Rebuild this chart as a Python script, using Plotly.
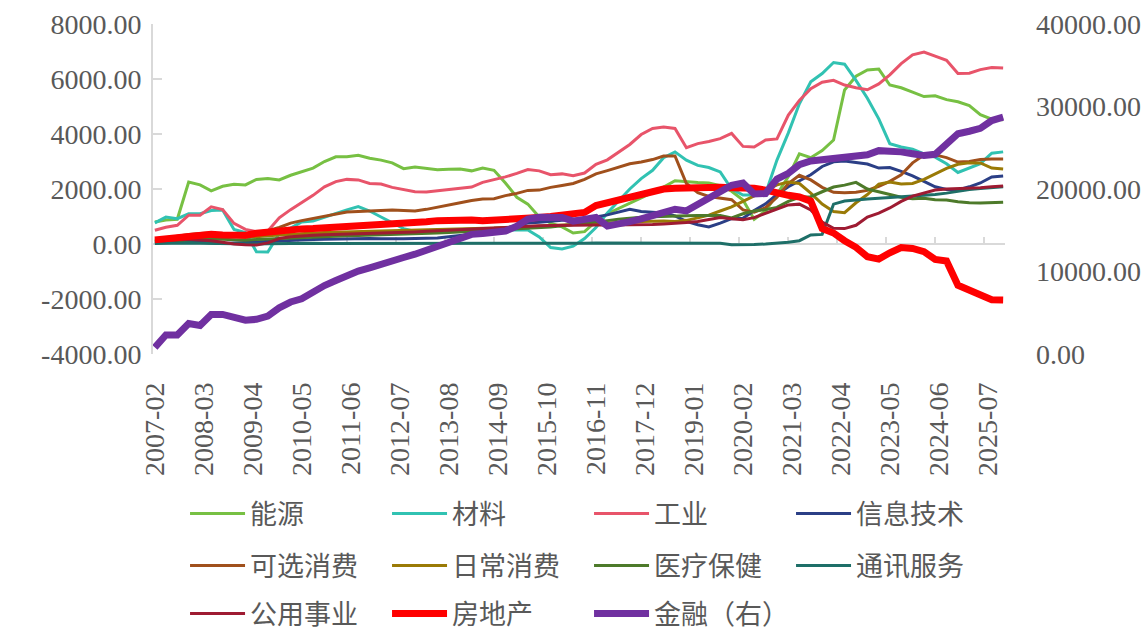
import pandas as pd
import plotly.graph_objects as go

# ---------------- data (quarterly readings, 2007-02 .. 2025-11) ----------------
dates = pd.date_range("2007-02-01", periods=76, freq="3MS").strftime("%Y-%m-%d").tolist()

energy = [800, 870, 900, 2250, 2150, 1930, 2100, 2170, 2150, 2350,
          2380, 2330, 2500, 2620, 2760, 3000, 3170, 3170, 3230, 3120,
          3050, 2950, 2740, 2800, 2760, 2700, 2720, 2730, 2660, 2760,
          2680, 2220, 1700, 1450, 980, 760, 620, 400, 450, 820,
          1100, 1280, 1480, 1680, 1880, 2070, 2300, 2260, 2240, 2220,
          2120, 1920, 1600, 900, 1200, 1800, 2450, 3280, 3140, 3400,
          3780, 5600, 6100, 6330, 6360, 5780, 5680, 5520, 5360, 5390,
          5250, 5170, 5030, 4700, 4540, 4520]
materials = [770, 980, 920, 1100, 1100, 1220, 1240, 530, 420, -280,
             -290, 380, 580, 800, 840, 980, 1110, 1240, 1360, 1200,
             980, 760, 560, 460, 440, 480, 510, 480, 500, 510,
             510, 510, 510, 510, 260, -130, -180, -80, 200, 600,
             1130, 1550, 2000, 2380, 2680, 3140, 3350, 3050, 2860, 2780,
             2620, 2000, 1780, 1780, 1830, 3050, 4040, 5100, 5900, 6200,
             6600, 6540, 5950, 5300, 4550, 3650, 3530, 3450, 3280, 3160,
             2920, 2600, 2750, 2920, 3300, 3350]
industrials = [500, 610, 680, 1050, 1050, 1350, 1250, 750, 530, 450,
               470, 950, 1250, 1500, 1770, 2080, 2270, 2350, 2330, 2200,
               2180, 2060, 1980, 1900, 1890, 1940, 1990, 2030, 2070, 2240,
               2330, 2440, 2570, 2710, 2660, 2520, 2550, 2480, 2580, 2900,
               3060, 3320, 3620, 3980, 4200, 4250, 4200, 3500, 3650, 3730,
               3830, 4020, 3550, 3530, 3780, 3820, 4690, 5220, 5650, 5880,
               5950, 5780, 5680, 5610, 5820, 6150, 6560, 6880, 6980, 6830,
               6680, 6200, 6210, 6340, 6420, 6400]
info_tech = [50, 60, 70, 80, 60, 40, 20, 40, 60, 80,
             100, 120, 130, 150, 160, 170, 180, 190, 200, 200,
             190, 180, 190, 200, 210, 220, 260, 300, 350, 400,
             480, 560, 680, 760, 790, 820, 860, 900, 940, 980,
             1060, 1160, 1260, 1180, 1150, 1130, 1020, 820, 700, 620,
             760, 920, 940, 1220, 1460, 1800, 2080, 2300, 2520, 2820,
             2990, 3020, 2970, 2910, 2760, 2780, 2640, 2480, 2280, 2080,
             1980, 1970, 2080, 2220, 2440, 2470]
discretionary = [150, 200, 280, 350, 380, 400, 350, 280, 250, 350,
                 480, 600, 760, 850, 930, 1030, 1110, 1160, 1180, 1200,
                 1220, 1240, 1220, 1200, 1260, 1330, 1420, 1500, 1580, 1640,
                 1650, 1760, 1840, 1950, 1960, 2060, 2130, 2200, 2350, 2550,
                 2670, 2780, 2920, 2980, 3070, 3200, 3200, 2200, 1870, 1730,
                 1670, 1610, 1240, 1160, 1320, 1700, 2200, 2500, 2330, 2060,
                 1880, 1860, 1880, 1950, 2100, 2280, 2520, 2950, 3240, 3240,
                 3140, 2980, 3000, 3070, 3090, 3090]
staples = [100, 150, 200, 250, 280, 300, 300, 280, 250, 260,
           300, 330, 360, 380, 400, 420, 430, 440, 450, 460,
           470, 480, 480, 490, 500, 510, 520, 530, 540, 560,
           580, 600, 620, 640, 650, 660, 680, 700, 720, 740,
           760, 780, 800, 820, 830, 840, 820, 860, 950, 1050,
           1200, 1350, 1550, 1750, 1950, 2150, 2250, 2200, 1850, 1450,
           1180, 1140, 1500, 1800, 2180, 2250, 2180, 2200, 2350, 2560,
           2750, 2900, 2950, 2950, 2760, 2730]
health = [80, 100, 120, 150, 170, 180, 170, 150, 140, 160,
          180, 200, 220, 240, 260, 280, 290, 300, 310, 320,
          330, 340, 350, 360, 380, 400, 420, 440, 460, 480,
          500, 520, 540, 560, 590, 620, 660, 700, 750, 800,
          850, 900, 940, 970, 990, 1010, 1030, 1030, 1040, 1050,
          1040, 950, 1100, 1200, 1250, 1330, 1550, 1700, 1720, 1900,
          2070, 2140, 2240, 2000, 1900, 1790, 1700, 1650, 1660, 1610,
          1600, 1540, 1500, 1490, 1500, 1520]
comm = [20, 30, 40, 40, 30, 20, 10, 0, -10, 0,
        10, 20, 20, 30, 30, 20, 20, 20, 10, 10,
        20, 20, 20, 10, 10, 10, 10, 20, 20, 20,
        20, 20, 20, 20, 30, 30, 30, 30, 30, 40,
        40, 40, 40, 40, 50, 50, 50, 40, 40, 40,
        30, -30, -30, -20, 0, 30, 60, 120, 330, 350,
        1450, 1560, 1610, 1640, 1660, 1690, 1710, 1730, 1770, 1800,
        1850, 1920, 1980, 2020, 2060, 2080]
utilities = [100, 120, 150, 170, 150, 120, 60, 0, -30, -40,
             40, 200, 260, 300, 320, 340, 350, 360, 370, 380,
             390, 400, 420, 440, 460, 480, 500, 520, 540, 560,
             580, 620, 640, 650, 660, 670, 680, 690, 690, 690,
             690, 690, 690, 700, 710, 730, 750, 780, 820, 880,
             960, 920, 880, 960, 1120, 1280, 1420, 1450, 1240, 800,
             570, 560, 680, 980, 1120, 1310, 1550, 1740, 1860, 1960,
             2000, 2010, 2030, 2050, 2080, 2110]
real_estate = [150, 190, 230, 280, 320, 350, 330, 300, 320, 390,
               440, 500, 530, 550, 560, 580, 600, 620, 650, 680,
               700, 720, 750, 790, 810, 850, 870, 870, 870, 850,
               860, 870, 880, 920, 960, 1000, 1040, 1080, 1150, 1400,
               1500, 1560, 1640, 1780, 1880, 2000, 2030, 2050, 2070, 2070,
               2060, 2050, 2070, 2030, 1960, 1840, 1770, 1710, 1560, 560,
               400, 120, -120, -460, -550, -320, -130, -160, -280, -560,
               -620, -1500, -1660, -1830, -2030, -2040]
finance = [800, 2300, 2300, 3700, 3450, 4800, 4800, 4450, 4100, 4200,
           4600, 5600, 6300, 6700, 7600, 8300, 8900, 9550, 10050, 10450,
           10800, 11350, 11700, 12100, 12600, 13150, 13700, 14200, 14500, 14600,
           14650, 14900, 15500, 16350, 16580, 16600, 16550, 16100, 16300, 16550,
           15500, 15700, 16050, 16380, 16800, 17350, 17550, 17350, 18100, 18850,
           19650, 20450, 20730, 19400, 19450, 21200, 21900, 22950, 23400, 23550,
           23700, 23850, 24080, 24150, 24650, 24620, 24500, 24280, 24050, 24200,
           25500, 26700, 27000, 27350, 28300, 28700]

left_tickvals = [-4000, -2000, 0, 2000, 4000, 6000, 8000]
left_ticktext = ["-4000.00", "-2000.00", "0.00", "2000.00", "4000.00", "6000.00", "8000.00"]
right_tickvals = [0, 10000, 20000, 30000, 40000]
right_ticktext = ["0.00", "10000.00", "20000.00", "30000.00", "40000.00"]

series = [
    ("能源", energy, "#77C043", 3, "legend"),
    ("材料", materials, "#31C2B2", 3, "legend"),
    ("工业", industrials, "#E8546A", 3, "legend"),
    ("信息技术", info_tech, "#2B3F86", 3, "legend"),
    ("可选消费", discretionary, "#A0501C", 3, "legend2"),
    ("日常消费", staples, "#9A7A06", 3, "legend2"),
    ("医疗保健", health, "#4D7A2A", 3, "legend2"),
    ("通讯服务", comm, "#1E6F68", 3, "legend2"),
    ("公用事业", utilities, "#9E1B32", 3, "legend3"),
    ("房地产", real_estate, "#FF0000", 7, "legend3"),
]

GRAY = "#595959"
AXIS = "#D9D9D9"
NUM_FONT = "Liberation Serif, Noto Sans CJK SC"
CJK_FONT = "Noto Sans CJK SC, Liberation Serif"

fig = go.Figure()
for name, vals, color, w, lg in series:
    fig.add_trace(go.Scatter(x=dates, y=vals, name=name, mode="lines",
                             line=dict(color=color, width=w), legend=lg,
                             yaxis="y"))
fig.add_trace(go.Scatter(x=dates, y=finance, name="金融（右）", mode="lines",
                         line=dict(color="#7030A0", width=7), legend="legend3",
                         yaxis="y2"))
# helper trace so the tick-mark axis at zero is drawn
fig.add_trace(go.Scatter(x=[dates[0]], y=[None], xaxis="x2", yaxis="y",
                         showlegend=False, hoverinfo="skip"))

xrange = ["2007-01-17", "2025-11-16"]
zero_pos = (0 - left_tickvals[0]) / (left_tickvals[-1] - left_tickvals[0])

legend_common = dict(orientation="h", xanchor="left", yanchor="middle", x=0.0376,
                     entrywidth=132, entrywidthmode="pixels", itemwidth=55,
                     font=dict(family=CJK_FONT, size=27, color=GRAY),
                     bgcolor="rgba(0,0,0,0)", traceorder="normal")

fig.update_layout(
    width=1148, height=634,
    margin=dict(l=153, r=143, t=24, b=280, autoexpand=False),
    paper_bgcolor="white", plot_bgcolor="white",
    showlegend=True,
    legend=dict(legend_common, y=-0.485),
    legend2=dict(legend_common, y=-0.642),
    legend3=dict(legend_common, y=-0.7875),
    xaxis=dict(type="date", range=xrange, tickmode="linear", tick0="2007-02-01",
               dtick="M13", tickformat="%Y-%m", tickangle=-90, automargin=False,
               showgrid=False, showline=False, zeroline=False, ticks="",
               ticklabelstandoff=22,
               tickfont=dict(family=NUM_FONT, size=28, color=GRAY)),
    xaxis2=dict(type="date", range=xrange, overlaying="x", anchor="free",
                position=zero_pos, side="bottom", tickmode="linear", automargin=False,
                tick0="2007-01-01", dtick="M13", ticks="inside", ticklen=7,
                tickwidth=2, tickcolor=AXIS, showticklabels=False,
                layer="below traces",
                showgrid=False, showline=False, zeroline=False),
    yaxis=dict(range=[left_tickvals[0], left_tickvals[-1]], tickmode="array",
               tickvals=left_tickvals, ticktext=left_ticktext, automargin=False,
               showgrid=False, zeroline=True, zerolinecolor=AXIS, zerolinewidth=2,
               showline=True, linecolor=AXIS, linewidth=2,
               ticks="inside", ticklen=9, tickwidth=2, tickcolor=AXIS,
               ticklabelstandoff=4, layer="below traces",
               tickfont=dict(family=NUM_FONT, size=28, color=GRAY)),
    yaxis2=dict(range=[right_tickvals[0], right_tickvals[-1]], overlaying="y",
                side="right", tickmode="array", tickvals=right_tickvals,
                ticktext=right_ticktext, showgrid=False, zeroline=False,
                showline=False, ticks="", ticklabelstandoff=30, automargin=False,
                tickfont=dict(family=NUM_FONT, size=28, color=GRAY)),
)

fig.write_html("out.html",
               config={"displayModeBar": False},
               post_script="document.body.style.margin='0px';"
                           "document.body.style.overflow='hidden';")
